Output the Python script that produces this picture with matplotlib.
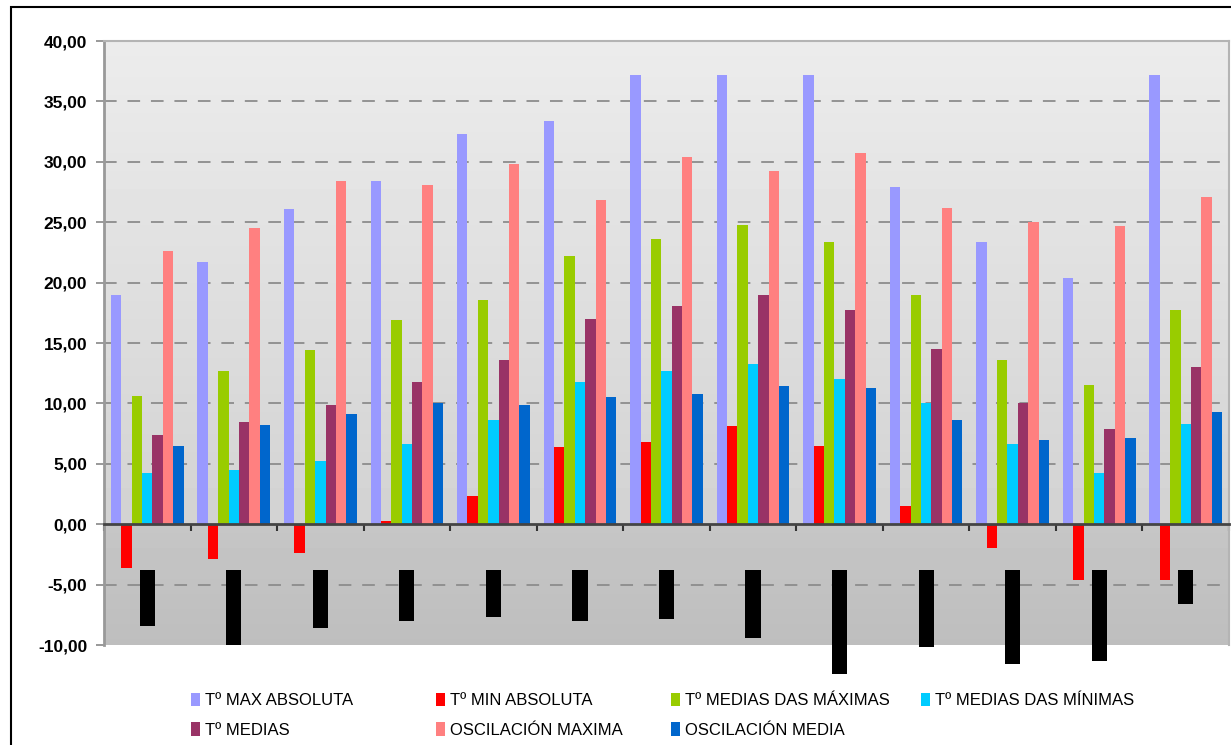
import numpy as np
import matplotlib
matplotlib.use("Agg")
import matplotlib.pyplot as plt
from matplotlib.patches import Rectangle
from matplotlib.ticker import FuncFormatter

# === data ===
max_abs = [19.0, 21.7, 26.1, 28.4, 32.3, 33.4, 37.2, 37.2, 37.2, 27.9, 23.4, 20.4, 37.2]
min_abs = [-3.6, -2.85, -2.35, 0.3, 2.35, 6.35, 6.8, 8.1, 6.5, 1.5, -1.95, -4.6, -4.6]
med_max = [10.65, 12.7, 14.4, 16.9, 18.6, 22.2, 23.6, 24.8, 23.4, 18.95, 13.6, 11.5, 17.7]
med_min = [4.2, 4.5, 5.25, 6.65, 8.65, 11.8, 12.7, 13.3, 12.05, 10.05, 6.65, 4.2, 8.3]
medias = [7.4, 8.5, 9.9, 11.8, 13.6, 17.0, 18.1, 19.0, 17.7, 14.5, 10.05, 7.9, 13.05]
osc_max = [22.65, 24.5, 28.4, 28.05, 29.8, 26.8, 30.4, 29.2, 30.7, 26.2, 25.05, 24.65, 27.1]
osc_med = [6.5, 8.25, 9.15, 10.05, 9.9, 10.55, 10.8, 11.45, 11.3, 8.65, 7.0, 7.15, 9.3]
# black bars hanging below the zero line (top / bottom)
black_top = -3.8
black_bot = [-8.4, -10.0, -8.6, -8.0, -7.7, -8.0, -7.85, -9.4, -12.4, -10.2, -11.6, -11.3, -6.6]

labels = ["Tº MAX ABSOLUTA", "Tº MIN ABSOLUTA", "Tº MEDIAS DAS MÁXIMAS",
          "Tº MEDIAS DAS MÍNIMAS", "Tº MEDIAS", "OSCILACIÓN MAXIMA", "OSCILACIÓN MEDIA"]
colors = ["#9999ff", "#ff0000", "#99cc00", "#00ccff", "#993366", "#ff8080", "#0066cc"]
series = [max_abs, min_abs, med_max, med_min, medias, osc_max, osc_med]

plt.rcParams["font.family"] = ["Liberation Sans", "DejaVu Sans"]

W, H = 1231, 745
fig = plt.figure(figsize=(W / 100, H / 100), dpi=100)

# outer frame
fig.patches.append(Rectangle((11 / W, -0.1), 1.2, (H - 7) / H + 0.1, transform=fig.transFigure,
                             fill=False, edgecolor="black", linewidth=1.5))

ax = fig.add_axes([104 / W, (H - 645) / H, (1229 - 104) / W, (645 - 41) / H])
ax.set_xlim(-0.5, 12.5)
ax.set_ylim(-10, 40)

# gradient background
grad = np.concatenate([np.linspace(0.745, 0.775, 40), np.linspace(0.825, 0.925, 160)])
bg = np.repeat(grad[:, None], 2, axis=1)
ax.imshow(bg, extent=[-0.5, 12.5, -10, 40], aspect="auto", cmap="gray", vmin=0, vmax=1,
          origin="lower", zorder=0)

for y in range(-5, 40, 5):
    if y == 0:
        continue
    ax.axhline(y, color="#8c8c8c", linewidth=1.3, dashes=(7, 6), zorder=1)

x = np.arange(13)
bw = 0.12
handles = []
for i, (vals, c, lab) in enumerate(zip(series, colors, labels)):
    b = ax.bar(x + (i - 3) * bw, vals, width=bw, color=c, label=lab, zorder=2, linewidth=0)
    handles.append(b)

hb = np.array(black_bot) - black_top
ax.bar(x, hb, bottom=black_top, width=0.175, color="black", zorder=3, linewidth=0, clip_on=False)

# axes styling
for s in ["top", "right"]:
    ax.spines[s].set_color("#b4b4b4")
    ax.spines[s].set_linewidth(1.5)
ax.spines["left"].set_color("#999999")
ax.spines["left"].set_linewidth(2)
ax.spines["bottom"].set_position(("data", 0))
ax.spines["bottom"].set_color("#444444")
ax.spines["bottom"].set_linewidth(2)

ax.set_yticks(range(-10, 41, 5))
ax.yaxis.set_major_formatter(FuncFormatter(lambda v, p: f"{v:.2f}".replace(".", ",")))
ax.tick_params(axis="y", length=6, width=1.2, color="#888888", pad=6)
for t in ax.get_yticklabels():
    t.set_fontweight("bold")
    t.set_fontsize(12.5)

ax.set_xticks(np.arange(-0.5, 13, 1))
ax.set_xticklabels([])
ax.tick_params(axis="x", direction="out", length=5, width=1.5, color="#333333")

# legend: 4 fixed-width columns, filled row by row
col_x = [184, 429, 664, 914]
for col in range(4):
    idx = [k for k in (col, col + 4) if k < len(labels)]
    fig.legend([handles[k] for k in idx], [labels[k] for k in idx],
               loc="upper left", bbox_to_anchor=(col_x[col] / W, 1 - 686 / H),
               frameon=False, fontsize=12, handlelength=0.55, handleheight=0.85,
               handletextpad=0.3, labelspacing=0.85, borderaxespad=0)
fig.savefig("out.png", dpi=100)
